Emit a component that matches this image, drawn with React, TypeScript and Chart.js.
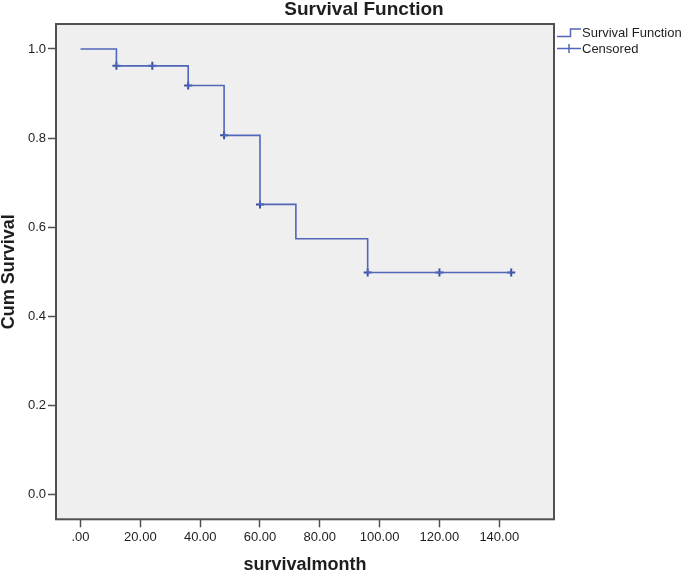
import { useEffect, useRef } from 'react';
import { Chart, registerables } from 'chart.js';

Chart.register(...registerables);

// ---- data ----
const CHART_TITLE = 'Survival Function';
const X_TITLE = 'survivalmonth';
const Y_TITLE = 'Cum Survival';
const SERIES_LABELS = ['Survival Function', 'Censored'];

const STEP_TIMES = [0, 12, 36, 48, 60, 72, 96, 144];
const STEP_SURVIVAL = [1.0, 0.962, 0.918, 0.806, 0.651, 0.574, 0.498, 0.498];

const CENSOR_TIMES = [12, 24, 36, 48, 60, 96, 120, 144];
const CENSOR_SURVIVAL = [0.962, 0.962, 0.918, 0.806, 0.651, 0.498, 0.498, 0.498];

const X_TICKS = [0, 20, 40, 60, 80, 100, 120, 140];
const X_TICK_LABELS = ['.00', '20.00', '40.00', '60.00', '80.00', '100.00', '120.00', '140.00'];
const Y_TICKS = [0, 0.2, 0.4, 0.6, 0.8, 1.0];
const Y_TICK_LABELS = ['0.0', '0.2', '0.4', '0.6', '0.8', '1.0'];

const X_MIN = -8.2;
const X_MAX = 158.3;
const Y_MIN = -0.056;
const Y_MAX = 1.056;

// ---- styles ----
const FONT = '"Liberation Sans", Arial, sans-serif';
const LINE_COLOR = '#5266b9';
const MARK_COLOR = '#3a4fa6';
const TEXT_COLOR = '#1e1e1e';
const AXIS_COLOR = '#505050';
const PLOT_BG = '#efefef';

const decorPlugin = {
  id: 'spssDecor',
  beforeDraw(chart: any) {
    const { ctx, chartArea: a } = chart;
    ctx.save();
    ctx.fillStyle = PLOT_BG;
    ctx.fillRect(a.left, a.top, a.right - a.left, a.bottom - a.top);
    ctx.restore();
  },
  afterDraw(chart: any) {
    const { ctx, chartArea: a } = chart;
    ctx.save();
    // frame
    ctx.strokeStyle = AXIS_COLOR;
    ctx.lineWidth = 2;
    ctx.strokeRect(a.left, a.top, a.right - a.left, a.bottom - a.top);

    // title
    ctx.fillStyle = TEXT_COLOR;
    ctx.font = `bold 19px ${FONT}`;
    ctx.textAlign = 'center';
    ctx.textBaseline = 'middle';
    ctx.fillText(CHART_TITLE, 364, 10);

    // legend
    const ds = chart.data.datasets;
    const lx = a.right + 3;
    ctx.font = `13px ${FONT}`;
    ctx.textAlign = 'left';
    ctx.strokeStyle = LINE_COLOR;
    ctx.lineWidth = 1.5;
    ctx.beginPath();
    ctx.moveTo(lx, 36.5);
    ctx.lineTo(lx + 13.5, 36.5);
    ctx.lineTo(lx + 13.5, 29);
    ctx.lineTo(lx + 24, 29);
    ctx.stroke();
    ctx.fillText(ds[0].label, lx + 25, 33);

    ctx.beginPath();
    ctx.moveTo(lx, 48.5);
    ctx.lineTo(lx + 24, 48.5);
    ctx.stroke();
    ctx.beginPath();
    ctx.moveTo(lx + 12, 44);
    ctx.lineTo(lx + 12, 53);
    ctx.stroke();
    ctx.fillText(ds[1].label, lx + 25, 49);
    ctx.restore();
  },
};

export default function App() {
  const ref = useRef<HTMLCanvasElement>(null);

  useEffect(() => {
    document.body.style.margin = '0';
    const canvas = ref.current;
    if (!canvas) return;

    const chart = new Chart(canvas, {
      type: 'scatter',
      data: {
        datasets: [
          {
            label: SERIES_LABELS[0],
            data: STEP_TIMES.map((t, i) => ({ x: t, y: STEP_SURVIVAL[i] })),
            showLine: true,
            stepped: 'before',
            borderColor: LINE_COLOR,
            borderWidth: 1.6,
            pointRadius: 0,
            pointHoverRadius: 0,
            fill: false,
          } as any,
          {
            label: SERIES_LABELS[1],
            data: CENSOR_TIMES.map((t, i) => ({ x: t, y: CENSOR_SURVIVAL[i] })),
            showLine: false,
            pointStyle: 'cross',
            pointRadius: 4,
            pointBorderWidth: 2,
            pointBorderColor: MARK_COLOR,
            pointBackgroundColor: MARK_COLOR,
            borderColor: MARK_COLOR,
          } as any,
        ],
      },
      options: {
        animation: false,
        responsive: false,
        maintainAspectRatio: false,
        layout: { padding: { left: 0, top: 24, right: 131, bottom: 0 } },
        plugins: {
          legend: { display: false },
          title: { display: false },
          tooltip: { enabled: false },
        },
        scales: {
          x: {
            type: 'linear',
            min: X_MIN,
            max: X_MAX,
            afterBuildTicks: (s: any) => {
              s.ticks = X_TICKS.map((v) => ({ value: v }));
            },
            afterFit: (s: any) => {
              s.height = 53.7;
            },
            ticks: {
              autoSkip: false,
              maxRotation: 0,
              padding: 2,
              color: TEXT_COLOR,
              font: { family: FONT, size: 13 },
              callback: (_v: any, i: number) => X_TICK_LABELS[i],
            },
            grid: {
              drawOnChartArea: false,
              drawTicks: true,
              tickLength: 8,
              tickWidth: 1.5,
              tickColor: AXIS_COLOR,
              color: AXIS_COLOR,
            },
            border: { display: false },
            title: {
              display: true,
              text: X_TITLE,
              color: TEXT_COLOR,
              font: { family: FONT, size: 18, weight: 'bold', lineHeight: 0.85 },
              padding: { top: 0, bottom: 0 },
            },
          },
          y: {
            type: 'linear',
            min: Y_MIN,
            max: Y_MAX,
            afterBuildTicks: (s: any) => {
              s.ticks = Y_TICKS.map((v) => ({ value: v }));
            },
            afterFit: (s: any) => {
              s.width = 56;
            },
            ticks: {
              autoSkip: false,
              padding: 2,
              color: TEXT_COLOR,
              font: { family: FONT, size: 13 },
              callback: (_v: any, i: number) => Y_TICK_LABELS[i],
            },
            grid: {
              drawOnChartArea: false,
              drawTicks: true,
              tickLength: 8,
              tickWidth: 1.5,
              tickColor: AXIS_COLOR,
              color: AXIS_COLOR,
            },
            border: { display: false },
            title: {
              display: true,
              text: Y_TITLE,
              color: TEXT_COLOR,
              font: { family: FONT, size: 18, weight: 'bold', lineHeight: 1 },
              padding: { top: 0, bottom: 0 },
            },
          },
        },
      } as any,
      plugins: [decorPlugin],
    });

    return () => chart.destroy();
  }, []);

  return (
    <div style={{ width: 685, height: 573, position: 'relative' }}>
      <canvas ref={ref} width={685} height={573} style={{ display: 'block' }} />
    </div>
  );
}
